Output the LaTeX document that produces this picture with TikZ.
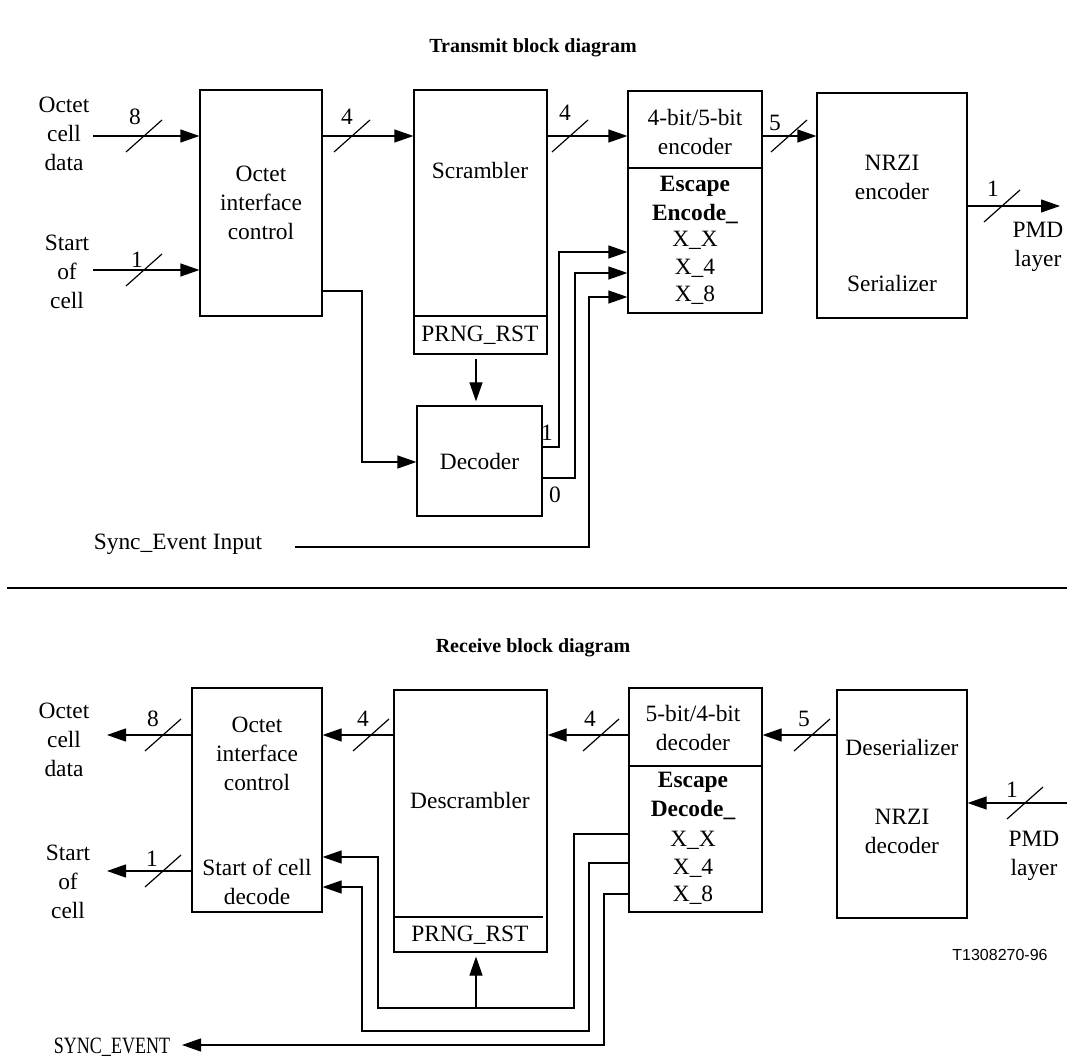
\documentclass[tikz,border=0pt]{standalone}
\usepackage{fontspec}
\setmainfont{Liberation Serif}
\newfontfamily\refsans{Liberation Sans}
\usetikzlibrary{arrows.meta}

\begin{document}
\begin{tikzpicture}[
    x=0.5pt, y=-0.5pt,
    every node/.style={font=\fontsize{11.7}{14.5}\selectfont, inner sep=0pt},
    block/.style={rectangle, draw, line width=0.6pt, inner sep=0pt},
    txt/.style={align=center},
    bold/.style={font=\fontsize{11.7}{14.5}\selectfont\bfseries},
    headline/.style={font=\fontsize{10}{12}\selectfont\bfseries},
    arrow/.style={-{Triangle[length=9.5pt,width=6.5pt]}, line width=0.6pt},
    wire/.style={line width=0.6pt}
  ]
  \useasboundingbox (0,0) rectangle (1067,1059);

  % transmit side
  \node[headline] (ttitle) at (533,48) {Transmit block diagram};

  \node[block, txt, minimum width=61pt, minimum height=113pt] (toic) at (261,203) {Octet\\interface\\control};
  \node[block, minimum width=66.5pt, minimum height=132pt] (tscr) at (480.5,222) {};
  \node[block, minimum width=67pt, minimum height=111pt] (tenc) at (695,202) {};
  \node[block, minimum width=75pt, minimum height=112.5pt] (tnrzi) at (892,205.5) {};
  \node[block, txt, minimum width=62.5pt, minimum height=55pt] (tdec) at (479.5,461) {Decoder};

  \draw[wire] (tscr.west |- 0,316) -- (tscr.east |- 0,316);
  \draw[wire] (tenc.west |- 0,168) -- (tenc.east |- 0,168);

  \node (tscrl) at (480,170) {Scrambler};
  \node (tprng) at (480,335) {PRNG\_RST};
  \node[txt] (tencl) at (695,132) {4-bit/5-bit\\encoder};
  \node[txt, bold] (tesc) at (695,200) {Escape\\Encode\_};
  \node (txx) at (695,240) {X\_X};
  \node (tx4) at (695,268) {X\_4};
  \node (tx8) at (695,295) {X\_8};
  \node[txt] (tnrzil) at (892,177) {NRZI\\encoder};
  \node (tser) at (892,283) {Serializer};
  \node[txt] (tdata) at (64,134) {Octet\\cell\\data};
  \node[txt] (tstart) at (67,272) {Start\\of\\cell};
  \node[txt] (tpmd) at (1038,247) {PMD\\layer};
  \node (tsync) at (178,544) {Sync\_Event Input};
  \node (tone) at (547,433) {1};
  \node (tzero) at (555,495) {0};

  \coordinate (tin8) at (93,136);
  \coordinate (tin1) at (93,270);
  \coordinate (tout1) at (1060,206);
  \coordinate (tsyncin) at (295,547);

  \draw[arrow] (tin8) -- (tin8 -| toic.west);
  \draw[arrow] (tin1) -- (tin1 -| toic.west);
  \draw[arrow] (toic.east |- tin8) -- (tscr.west |- tin8);
  \draw[arrow] (tscr.east |- tin8) -- (tenc.west |- tin8);
  \draw[arrow] (tenc.east |- tin8) -- (tnrzi.west |- tin8);
  \draw[arrow] (tnrzi.east |- tout1) -- (tout1);
  \draw[arrow] (toic.east |- 0,291) -| (362,462) -- (tdec.west |- 0,462);
  \draw[arrow, shorten <=2pt, shorten >=2pt] (tscr.south -| 476,0) -- (tdec.north -| 476,0);
  \draw[arrow] (tdec.east |- 0,447) -| (559,252) -- (tenc.west |- 0,252);
  \draw[arrow] (tdec.east |- 0,478) -| (575,273) -- (tenc.west |- 0,273);
  \draw[arrow] (tsyncin) -| (589,297) -- (tenc.west |- 0,297);

  % bus width marks
  \foreach \sx/\sy/\lx/\ly/\w [count=\i] in {144/136/135/117/8, 144/270/137/260/1,
      352/136/347/117/4, 570/136/565/113/4, 789/136/775/123/5, 1002/206/993/189/1,
      163/735/153/719/8, 163/871/152/859/1, 371/735/363/719/4, 601/735/590/719/4,
      812/735/804/719/5, 1025/803/1012/790/1}
  {
    \draw[wire] (\sx-18,\sy+16) -- (\sx+18,\sy-16);
    \node (bw\i) at (\lx,\ly) {\w};
  }

  \coordinate (sepl) at (7,588);
  \coordinate (sepr) at (1067,588);
  \draw[wire] (sepl) -- (sepr);

  % receive side
  \node[headline] (rtitle) at (533,648) {Receive block diagram};

  \node[block, minimum width=65pt, minimum height=112pt] (roic) at (257,800) {};
  \node[block, minimum width=76.5pt, minimum height=131pt] (rdscr) at (470.5,821) {};
  \node[block, minimum width=66.5pt, minimum height=112pt] (rdec) at (695.5,800) {};
  \node[block, minimum width=65pt, minimum height=114pt] (rdser) at (902,804) {};

  \draw[wire] (rdscr.west |- 0,917) -- (543,917);
  \draw[wire] (rdec.west |- 0,766) -- (rdec.east |- 0,766);

  \node[txt] (roicl) at (257,754) {Octet\\interface\\control};
  \node[txt] (rsoc) at (257,882) {Start of cell\\decode};
  \node (rdscrl) at (470,800) {Descrambler};
  \node (rprng) at (470,935) {PRNG\_RST};
  \node[txt] (rdecl) at (693,728) {5-bit/4-bit\\decoder};
  \node[txt, bold] (resc) at (693,796) {Escape\\Decode\_};
  \node (rxx) at (693,840) {X\_X};
  \node (rx4) at (693,868) {X\_4};
  \node (rx8) at (693,895) {X\_8};
  \node (rdserl) at (902,747) {Deserializer};
  \node[txt] (rnrzil) at (902,831) {NRZI\\decoder};
  \node[txt] (rdata) at (64,740) {Octet\\cell\\data};
  \node[txt] (rstart) at (68,882) {Start\\of\\cell};
  \node[txt] (rpmd) at (1034,856) {PMD\\layer};
  \node (rsync) at (112,1047) {\scalebox{0.77}[1]{SYNC\_EVENT}};
  \node[font=\refsans\fontsize{8}{10}\selectfont] (figid) at (1000,955) {T1308270-96};

  \coordinate (rout8) at (107,735);
  \coordinate (rout1) at (107,871);
  \coordinate (rin1) at (1067,803);
  \coordinate (rjoin) at (476,1008);
  \coordinate (rsyncout) at (182,1045);

  \draw[arrow] (roic.west |- rout8) -- (rout8);
  \draw[arrow] (roic.west |- rout1) -- (rout1);
  \draw[arrow] (rdscr.west |- rout8) -- (roic.east |- rout8);
  \draw[arrow] (rdec.west |- rout8) -- (rdscr.east |- rout8);
  \draw[arrow] (rdser.west |- rout8) -- (rdec.east |- rout8);
  \draw[arrow] (rin1) -- (rdser.east |- rin1);
  \draw[arrow] (rdec.west |- 0,834) -| (574,1008) -| (378,857) -- (roic.east |- 0,857);
  \draw[arrow, shorten >=2pt] (rjoin) -- (rdscr.south -| rjoin);
  \draw[arrow] (rdec.west |- 0,863) -| (589,1031) -| (362,887) -- (roic.east |- 0,887);
  \draw[arrow] (rdec.west |- 0,894) -| (604,1045) -- (rsyncout);

\end{tikzpicture}
\end{document}
